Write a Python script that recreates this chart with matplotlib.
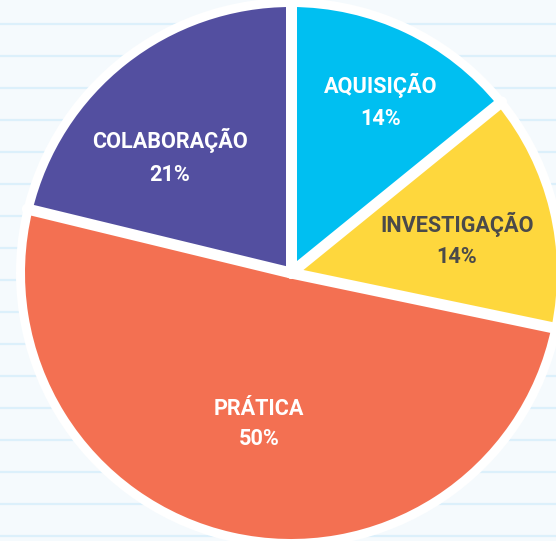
import numpy as np
import matplotlib
matplotlib.use("Agg")
import matplotlib.pyplot as plt
from matplotlib.patches import Circle

# Share of each learning type
categories = ["AQUISIÇÃO", "INVESTIGAÇÃO", "PRÁTICA", "COLABORAÇÃO"]
values = [14, 14, 50, 21]
colors = ["#00bff1", "#fed73d", "#f37052", "#534fa0"]
text_colors = ["white", "#4a4a4a", "white", "white"]

# Label anchors (pie-radius units): x, baseline of name, baseline of percentage
label_x = [0.338, 0.624, -0.120, -0.455]
name_y = [0.677, 0.154, -0.534, 0.470]
pct_y = [0.556, 0.038, -0.647, 0.346]

W, H, DPI = 556, 541, 100
R_PX = 266.0            # pie radius in pixels
CX, CY = 291.0, 273.0   # pie centre in pixels (from top-left)

plt.rcParams["font.family"] = ["Roboto", "DejaVu Sans"]

fig = plt.figure(figsize=(W / DPI, H / DPI), dpi=DPI)
bg = "#f5fafd"
fig.patch.set_facecolor(bg)
ax = fig.add_axes([0, 0, 1, 1])
ax.set_facecolor(bg)

# Ruled-paper background lines
for py in range(24, H, 32):
    ax.axhline((CY - py) / R_PX, color="#dcf0fb", lw=1.6, zorder=0)

# White halo behind the pie
ax.add_patch(Circle((0, 0), 275 / R_PX, facecolor="white", edgecolor="none", zorder=1))

wedges, _ = ax.pie(values, colors=colors, startangle=90, counterclock=False,
                   radius=1.0, wedgeprops=dict(linewidth=0, zorder=2))
for w in wedges:
    w.set_zorder(2)

# White separators along each wedge boundary
sep_lw = 11 * 72 / DPI
for w in wedges:
    t = np.deg2rad(w.theta1)
    ax.plot([0, 1.02 * np.cos(t)], [0, 1.02 * np.sin(t)], color="white",
            lw=sep_lw, solid_capstyle="round", zorder=3)

for i, name in enumerate(categories):
    ax.text(label_x[i], name_y[i], name, ha="center", va="baseline",
            fontsize=15.6, fontweight="bold", color=text_colors[i], zorder=4)
    ax.text(label_x[i], pct_y[i], f"{values[i]}%", ha="center", va="baseline",
            fontsize=15.6, fontweight="bold", color=text_colors[i], zorder=4)

ax.set_aspect("auto")
ax.set_xlim(-CX / R_PX, (W - CX) / R_PX)
ax.set_ylim(-(H - CY) / R_PX, CY / R_PX)
ax.axis("off")

fig.savefig("out.png", dpi=DPI, facecolor=bg)
